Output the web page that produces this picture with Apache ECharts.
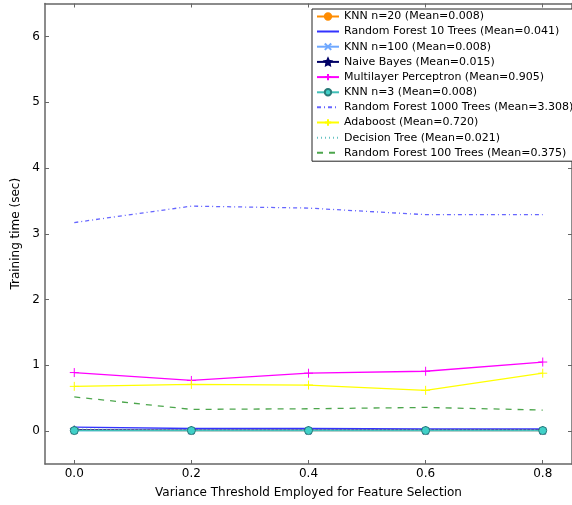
<!DOCTYPE html>
<html lang="en">
<head>
    <meta charset="UTF-8">
    <title>Training time</title>
    <script src="https://cdn.jsdelivr.net/npm/echarts@6/dist/echarts.min.js"></script>
</head>
<body style="margin:0">
    <div id="main" style="width: 572px;height:505px;"></div>
    <script type="text/javascript">
        // variance thresholds on the x axis
        const thresholds = [0.0, 0.2, 0.4, 0.6, 0.8];
        const xTicks = [0.0, 0.2, 0.4, 0.6, 0.8];
        const yTicks = [0, 1, 2, 3, 4, 5, 6];

        // training times (sec)
        const knn20 = [0.010, 0.008, 0.007, 0.008, 0.007];
        const rf10 = [0.060, 0.040, 0.040, 0.035, 0.035];
        const knn100 = [0.008, 0.008, 0.008, 0.008, 0.008];
        const naiveBayes = [0.020, 0.015, 0.014, 0.013, 0.013];
        const mlp = [0.89, 0.77, 0.88, 0.91, 1.05];
        const knn3 = [0.008, 0.008, 0.008, 0.008, 0.008];
        const rf1000 = [3.17, 3.42, 3.39, 3.29, 3.29];
        const adaboost = [0.68, 0.71, 0.70, 0.62, 0.88];
        const decisionTree = [0.030, 0.020, 0.020, 0.018, 0.017];
        const rf100 = [0.52, 0.33, 0.34, 0.36, 0.32];

        const plusPath = 'path://M0,-10 L0,10 M-10,0 L10,0';
        const crossPath = 'path://M-10,-10 L10,10 M-10,10 L10,-10';
        const starPath = 'path://M0,-10 L2.9,-4 L9.5,-3.1 L4.8,1.5 L5.9,8.1 L0,5 L-5.9,8.1 L-4.8,1.5 L-9.5,-3.1 L-2.9,-4 Z';

        function pts(vals) {
            return thresholds.map((t, i) => [t, vals[i]]);
        }

        function line(name, vals, color, opts) {
            opts = opts || {};
            return {
                name: name,
                type: 'line',
                data: pts(vals),
                symbol: opts.symbol || 'none',
                symbolSize: opts.symbolSize || 6,
                showSymbol: !!opts.symbol,
                lineStyle: { color: color, width: 1.3, type: opts.type || 'solid', opacity: opts.opacity || 1 },
                itemStyle: {
                    color: opts.fill || color,
                    borderColor: opts.edge || color,
                    borderWidth: opts.edgeWidth || 1
                },
                emphasis: { disabled: true },
                animation: false
            };
        }

        const series = [
            line('KNN n=20 (Mean=0.008)', knn20, '#ff8c00', { symbol: 'circle', symbolSize: 4 }),
            line('Random Forest 10 Trees (Mean=0.041)', rf10, '#0000ff', { opacity: 0.8 }),
            line('KNN n=100 (Mean=0.008)', knn100, '#6fa8ff', { symbol: crossPath, symbolSize: 7, fill: 'none' }),
            line('Naive Bayes (Mean=0.015)', naiveBayes, '#000066', { symbol: starPath, symbolSize: 8 }),
            line('Multilayer Perceptron (Mean=0.905)', mlp, '#ff00ff', { symbol: plusPath, symbolSize: 9, fill: 'none' }),
            line('KNN n=3 (Mean=0.008)', knn3, '#40c0b8', { symbol: 'circle', symbolSize: 8, fill: '#40d0c8', edge: '#2a7a78' }),
            line('Random Forest 1000 Trees (Mean=3.308)', rf1000, '#3333ff', { type: [4, 3, 1, 3], opacity: 0.75 }),
            line('Adaboost (Mean=0.720)', adaboost, '#ffff00', { symbol: plusPath, symbolSize: 9, fill: 'none' }),
            line('Decision Tree (Mean=0.021)', decisionTree, '#66c2c2', { type: [1, 3] }),
            line('Random Forest 100 Trees (Mean=0.375)', rf100, '#008000', { type: [6, 6], opacity: 0.7 })
        ];

        // legend entries: hide the marker for series drawn without one
        const legendData = series.map(s => s.showSymbol
            ? { name: s.name }
            : { name: s.name, itemStyle: { opacity: 0 } });

        const axisColor = '#666666';
        const font = 'DejaVu Sans';

        const options = {
            animation: false,
            textStyle: { fontFamily: font },
            grid: { left: 45, top: 3.5, bottom: 41, width: 536 },
            legend: {
                orient: 'vertical',
                left: 312,
                top: 9,
                padding: [2, 6, 3, 4],
                itemWidth: 22,
                itemHeight: 8,
                itemGap: 4,
                backgroundColor: '#ffffff',
                borderColor: '#222222',
                borderWidth: 1,
                textStyle: { fontFamily: font, fontSize: 11, color: '#000000' },
                data: legendData
            },
            xAxis: [{
                type: 'value',
                min: -0.05,
                max: 0.85,
                name: 'Variance Threshold Employed for Feature Selection',
                nameLocation: 'middle',
                nameGap: 23,
                nameTextStyle: { fontSize: 12, color: '#000000', fontFamily: font },
                axisLine: { onZero: false, lineStyle: { color: axisColor, width: 1.5 } },
                axisTick: { inside: true, length: 4, customValues: xTicks, lineStyle: { color: axisColor } },
                axisLabel: { customValues: xTicks, margin: 4, fontSize: 12, color: '#000000', formatter: v => v.toFixed(1) },
                splitLine: { show: false }
            }, {
                type: 'value',
                position: 'top',
                min: -0.05,
                max: 0.85,
                axisLine: { onZero: false, lineStyle: { color: axisColor, width: 1.5 } },
                axisTick: { inside: true, length: 4, customValues: xTicks, lineStyle: { color: axisColor } },
                axisLabel: { show: false },
                splitLine: { show: false }
            }],
            yAxis: [{
                type: 'value',
                min: -0.5,
                max: 6.5,
                name: 'Training time (sec)',
                nameLocation: 'middle',
                nameGap: 19,
                nameTextStyle: { fontSize: 12, color: '#000000', fontFamily: font },
                axisLine: { show: true, onZero: false, lineStyle: { color: axisColor, width: 1.5 } },
                axisTick: { show: true, inside: true, length: 4, customValues: yTicks, lineStyle: { color: axisColor } },
                axisLabel: { customValues: yTicks, margin: 5, fontSize: 12, color: '#000000' },
                splitLine: { show: false }
            }, {
                type: 'value',
                position: 'right',
                min: -0.5,
                max: 6.5,
                axisLine: { show: true, onZero: false, lineStyle: { color: axisColor, width: 1.5 } },
                axisTick: { show: true, inside: true, length: 4, customValues: yTicks, lineStyle: { color: axisColor } },
                axisLabel: { show: false },
                splitLine: { show: false }
            }],
            series: series
        };

        let myChart = echarts.init(document.getElementById('main'));
        myChart.setOption(options);
    </script>
</body>
</html>
